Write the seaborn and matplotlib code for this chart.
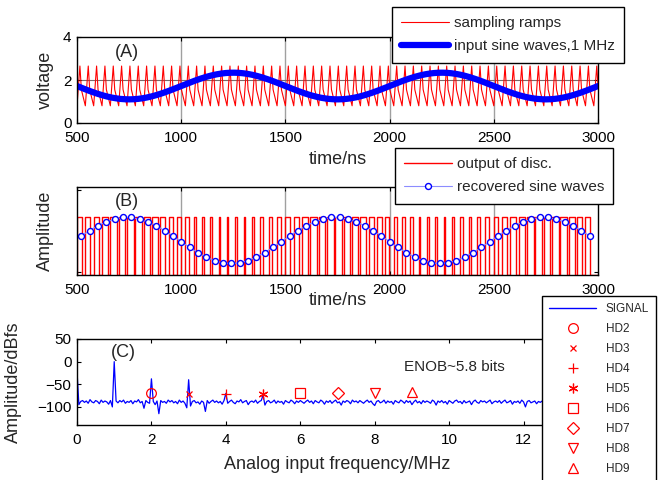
import numpy as np
import pandas as pd
import matplotlib
matplotlib.use("Agg")
import matplotlib.pyplot as plt
import seaborn as sns
from matplotlib.lines import Line2D

sns.set_theme(style="ticks")
plt.rcParams["font.family"] = ["Liberation Sans", "DejaVu Sans"]
plt.rcParams["axes.linewidth"] = 1.0

RED = "#ff0000"
BLUE = "#0000ff"

# ---------------- panel A: sampling ramps and 1 MHz input ----------------
t_start_ns, t_end_ns = 500, 3000
time_ticks = [500, 1000, 1500, 2000, 2500, 3000]
ramp_period_ns = 40
ramp_shape_t = [0, 14, 21, 30, 40]
ramp_shape_v = [0.8, 2.65, 1.55, 1.2, 0.8]
sine_offset_v = 1.72
sine_amp_v = 0.62
sine_freq_mhz = 1.0

# ---------------- panel B: discriminator output and recovered sine ----------------
recovered_t0_ns = 520
recovered_step_ns = 40
recovered = [
    0.68, 0.77, 0.86, 0.92, 0.97, 1.00, 1.00, 0.97, 0.92, 0.86, 0.77, 0.68, 0.58,
    0.48, 0.39, 0.31, 0.25, 0.21, 0.20, 0.21, 0.25, 0.31, 0.39, 0.48, 0.58,
    0.68, 0.77, 0.86, 0.92, 0.97, 1.00, 1.00, 0.97, 0.92, 0.86, 0.77, 0.68, 0.58,
    0.48, 0.39, 0.31, 0.25, 0.21, 0.20, 0.21, 0.25, 0.31, 0.39, 0.48, 0.58,
    0.68, 0.77, 0.86, 0.92, 0.97, 1.00, 1.00, 0.97, 0.92, 0.86, 0.77, 0.68,
]
pulse_duty_scale = 0.8

# ---------------- panel C: output spectrum ----------------
spectrum_fmax_mhz = 12.5
spectrum_db = [
    -20, -95, -88, -86, -90, -87, -92, -84, -89, -91, -86, -88, -93, -85, -90, -87, -89, -94, -86, -100, 0, -87, -91, -86, -89,
    -85, -92, -88, -90, -86, -93, -87, -89, -84, -91, -88, -103, -86, -90, -92, -38, -88, -95, -87, -115, -86, -90, -88, -92, -85,
    -89, -86, -91, -88, -93, -85, -90, -87, -92, -102, -40, -98, -88, -86, -91, -89, -94, -87, -90, -110, -86, -92, -88, -85, -90,
    -87, -91, -88, -94, -86, -70, -92, -88, -85, -90, -93, -87, -89, -84, -91, -88, -86, -95, -89, -87, -90, -85, -92, -88, -86,
    -74, -96, -88, -86, -91, -89, -85, -92, -87, -90, -88, -94, -86, -89, -91, -85, -88, -93, -87, -90, -86, -89, -92, -88, -85,
    -90, -87, -93, -86, -89, -91, -85, -88, -94, -87, -90, -86, -92, -88, -85, -91, -89, -96, -87, -90, -86, -88, -93, -85, -89,
    -87, -91, -86, -89, -92, -88, -85, -90, -87, -93, -97, -88, -86, -91, -89, -85, -92, -87, -90, -88, -94, -86, -89, -91, -85,
    -88, -92, -86, -90, -87, -95, -89, -85, -91, -88, -93, -86, -90, -87, -89, -92, -85, -88, -96, -87, -90, -86, -91, -88, -94,
    -86, -89, -92, -87, -85, -90, -88, -93, -86, -91, -89, -87, -95, -88, -85, -90, -92, -86, -89, -87, -91, -88, -85, -93, -89,
    -87, -90, -86, -92, -88, -85, -91, -89, -86, -94, -88, -90, -87, -92, -85, -89, -100, -88, -86, -91, -89, -87, -93, -88, -90,
    -87,
]
hd_labels = ["HD2", "HD3", "HD4", "HD5", "HD6", "HD7", "HD8", "HD9"]
hd_freq_mhz = [2, 3, 4, 5, 6, 7, 8, 9]
hd_db = [-70, -72, -72, -72, -70, -70, -70, -67]
# open circle, small x, plus, six-armed asterisk, square, diamond, triangles
hd_markers = ["o", "x", "+", (6, 2, 0), "s", "D", "v", "^"]
hd_sizes = [7, 5, 7, 7, 7, 6, 7, 7]
freq_ticks = [0, 2, 4, 6, 8, 10, 12, 14]
enob_text = "ENOB~5.8 bits"

# ---------------- derived series ----------------
t_fine = np.arange(t_start_ns, t_end_ns + 1, 1.0)
ramp_v = np.interp((t_fine - t_start_ns) % ramp_period_ns, ramp_shape_t, ramp_shape_v)
sine_v = sine_offset_v - sine_amp_v * np.sin(2 * np.pi * sine_freq_mhz * (t_fine - t_start_ns) / 1000.0)
df_a = pd.DataFrame({"t": t_fine, "ramp": ramp_v, "sine": sine_v})

rec_t = recovered_t0_ns + recovered_step_ns * np.arange(len(recovered))
pulse_x, pulse_y = [], []
for tc, v in zip(rec_t, recovered):
    s = tc - recovered_step_ns / 2
    w = pulse_duty_scale * v * recovered_step_ns
    pulse_x += [s, s, s + w, s + w]
    pulse_y += [0, 1, 1, 0]
pulse_x.append(t_end_ns)
pulse_y.append(0)
df_pulse = pd.DataFrame({"t": pulse_x, "v": pulse_y})
df_rec = pd.DataFrame({"t": rec_t, "v": recovered})

freq = np.linspace(0, spectrum_fmax_mhz, len(spectrum_db))
df_c = pd.DataFrame({"f": freq, "db": spectrum_db})

# ---------------- figure ----------------
W, H = 662, 480
fig = plt.figure(figsize=(W / 100, H / 100), dpi=100)


def box(l, t, r, b):
    return [l / W, 1 - b / H, (r - l) / W, (b - t) / H]


axA = fig.add_axes(box(77, 37, 598, 123))
axB = fig.add_axes(box(77, 187, 598, 275))
axC = fig.add_axes(box(77, 339, 598, 425))

TICK_FS = 11
LABEL_FS = 13

for ax in (axA, axB, axC):
    ax.tick_params(direction="in", top=True, right=True, length=3, width=0.8,
                   labelsize=TICK_FS, colors="black", pad=4)
    ax.tick_params(axis="x", pad=6)
    for sp in ax.spines.values():
        sp.set_color("black")
        sp.set_linewidth(1.0)

# panel A
for x in time_ticks[1:-1]:
    axA.axvline(x, color="#a0a0a0", lw=1.0, zorder=0)
axA.axhline(2, color="#7a6a6a", lw=0.8, zorder=0)
sns.lineplot(data=df_a, x="t", y="ramp", ax=axA, color=RED, lw=0.8, estimator=None)
sns.lineplot(data=df_a, x="t", y="sine", ax=axA, color=BLUE, lw=4.5, estimator=None)
axA.set_xlim(t_start_ns, t_end_ns)
axA.set_ylim(0, 4)
axA.set_xticks(time_ticks)
axA.set_yticks([0, 2, 4])
axA.set_xlabel("time/ns", fontsize=LABEL_FS, labelpad=4)
axA.set_ylabel("voltage", fontsize=LABEL_FS)
axA.yaxis.set_label_coords(-0.045, 0.5)
axA.text(680, 3.3, "(A)", fontsize=13, ha="left", va="center")

# panel B
for x in time_ticks[1:-1]:
    axB.axvline(x, color="#a0a0a0", lw=1.0, zorder=0)
sns.lineplot(data=df_pulse, x="t", y="v", ax=axB, color=RED, lw=1.0,
             sort=False, estimator=None)
sns.lineplot(data=df_rec, x="t", y="v", ax=axB, color="#8c8cff", lw=0.8,
             marker="o", markersize=4.3, markerfacecolor="white",
             markeredgecolor=BLUE, markeredgewidth=1.0, estimator=None)
axB.set_xlim(t_start_ns, t_end_ns)
axB.set_ylim(0, 1.53)
axB.set_xticks(time_ticks)
axB.set_yticks([0.06, 1.47])
axB.set_yticklabels([])
axB.set_xlabel("time/ns", fontsize=LABEL_FS, labelpad=-4)
axB.set_ylabel("Amplitude", fontsize=LABEL_FS)
axB.yaxis.set_label_coords(-0.045, 0.5)
axB.text(680, 1.28, "(B)", fontsize=13, ha="left", va="center")

# panel C
sns.lineplot(data=df_c, x="f", y="db", ax=axC, color=BLUE, lw=0.9, estimator=None)
for f, d, m, ms in zip(hd_freq_mhz, hd_db, hd_markers, hd_sizes):
    axC.plot([f], [d], linestyle="none", marker=m, markersize=ms,
             markerfacecolor="none", markeredgecolor=RED, markeredgewidth=0.9)
axC.set_xlim(0, 14)
axC.set_ylim(-140, 50)
axC.set_xticks(freq_ticks)
axC.set_yticks([50, 0, -50, -100])
axC.set_xlabel("Analog input frequency/MHz", fontsize=LABEL_FS, labelpad=6)
axC.set_ylabel("Amplitude/dBfs", fontsize=LABEL_FS)
axC.yaxis.set_label_coords(-0.105, 0.5)
axC.text(0.9, 21, "(C)", fontsize=13, ha="left", va="center")
axC.text(8.8, -11, enob_text, fontsize=11, ha="left", va="center")

# legends
leg_kw = dict(loc="upper left", fontsize=11, frameon=True, fancybox=False,
              edgecolor="black", framealpha=1, handlelength=3.1,
              handletextpad=0.35, labelspacing=0.6, borderpad=0.6,
              borderaxespad=0)

legA = fig.legend(
    handles=[Line2D([], [], color=RED, lw=0.8), Line2D([], [], color=BLUE, lw=4.5)],
    labels=["sampling ramps", "input sine waves,1 MHz"],
    bbox_to_anchor=(392 / W, 1 - 7 / H), **leg_kw)
legA.get_frame().set_linewidth(1.0)

legB = fig.legend(
    handles=[Line2D([], [], color=RED, lw=1.0),
             Line2D([], [], color="#8c8cff", lw=0.8, marker="o", markersize=4.3,
                    markerfacecolor="white", markeredgecolor=BLUE)],
    labels=["output of disc.", "recovered sine waves"],
    bbox_to_anchor=(395 / W, 1 - 148 / H), **leg_kw)
legB.get_frame().set_linewidth(1.0)

c_handles = [Line2D([], [], color=BLUE, lw=1.0)] + [
    Line2D([], [], linestyle="none", marker=m, markersize=ms, markerfacecolor="none",
           markeredgecolor=RED, markeredgewidth=0.9)
    for m, ms in zip(hd_markers, hd_sizes)]
legC = fig.legend(
    handles=c_handles, labels=["SIGNAL"] + hd_labels,
    loc="upper left", bbox_to_anchor=(542 / W, 1 - 296 / H), fontsize=8.5,
    frameon=True, fancybox=False, edgecolor="black", framealpha=1,
    handlelength=4.0, handletextpad=0.8, labelspacing=0.68, borderpad=0.6,
    borderaxespad=0)
legC.get_frame().set_linewidth(1.0)

fig.savefig("out.png", dpi=100, facecolor="white")
